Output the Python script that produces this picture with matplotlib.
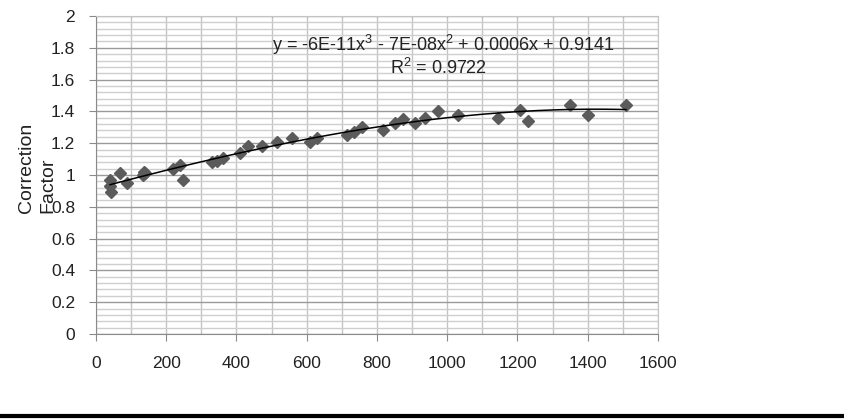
import matplotlib
matplotlib.use("Agg")
import matplotlib.pyplot as plt
from matplotlib.ticker import MultipleLocator
import numpy as np

# values
depth = [40, 40, 42, 68, 88, 134, 136, 140, 219, 239, 248, 330, 345, 361, 410, 433,
         472, 515, 558, 609, 629, 714, 735, 757, 817, 851, 874, 908, 937, 974, 1031,
         1145, 1207, 1230, 1349, 1400, 1509]
factor = [0.97, 0.93, 0.89, 1.01, 0.95, 1.0, 1.02, 1.01, 1.04, 1.06, 0.97, 1.08, 1.09,
          1.11, 1.14, 1.18, 1.18, 1.21, 1.23, 1.21, 1.23, 1.25, 1.27, 1.30, 1.28, 1.33,
          1.35, 1.33, 1.36, 1.40, 1.38, 1.36, 1.41, 1.34, 1.44, 1.38, 1.44]
y_labels = ["0", "0.2", "0.4", "0.6", "0.8", "1", "1.2", "1.4", "1.6", "1.8", "2"]
eq_text = "y = -6E-11x$^3$ - 7E-08x$^2$ + 0.0006x + 0.9141"
r2_text = "R$^2$ = 0.9722"

plt.rcParams["font.family"] = ["Liberation Sans", "DejaVu Sans"]
plt.rcParams["mathtext.fontset"] = "custom"
plt.rcParams["mathtext.rm"] = "Liberation Sans"

fig = plt.figure(figsize=(8.45, 4.2), dpi=100)
ax = fig.add_axes([96 / 845, 1 - 334 / 420, 562 / 845, 318 / 420])

ax.plot(depth, factor, linestyle="none", marker="D", markersize=6.5,
        color="#5b5b5b", zorder=3)

# cubic trend line fitted on the data
coef = np.polyfit(depth, factor, 3)
xs = np.linspace(min(depth), max(depth), 200)
ax.plot(xs, np.polyval(coef, xs), color="black", lw=1.1, zorder=4)

ax.set_xlim(0, 1600)
ax.set_ylim(0, 2)
ax.xaxis.set_major_locator(MultipleLocator(200))
ax.xaxis.set_minor_locator(MultipleLocator(100))
ax.yaxis.set_minor_locator(MultipleLocator(0.04))
ax.set_yticks(np.arange(0, 2.01, 0.2))
ax.set_yticklabels(y_labels)

ax.grid(which="major", axis="y", color="#9a9a9a", lw=1.0)
ax.grid(which="minor", axis="y", color="#cfcfcf", lw=1.0)
ax.grid(which="both", axis="x", color="#c4c4c4", lw=1.0)
ax.set_axisbelow(True)

for s in ["top", "right"]:
    ax.spines[s].set_color("#c4c4c4")
for s in ["left", "bottom"]:
    ax.spines[s].set_color("#8a8a8a")
ax.tick_params(which="major", length=5, color="#8a8a8a", labelsize=12.5,
               labelcolor="#222222")
ax.tick_params(which="minor", length=0)
ax.tick_params(axis="y", pad=10)
ax.tick_params(axis="x", pad=11)

# trendline label, as placed by the spreadsheet
ax.text(443 / 845, 1 - 45 / 420, eq_text, transform=fig.transFigure,
        ha="center", va="center", fontsize=13, color="#222222")
ax.text(438 / 845, 1 - 68 / 420, r2_text, transform=fig.transFigure,
        ha="center", va="center", fontsize=13, color="#222222")

# y label sits over the tick labels in the original, like here
fig.text(37 / 845, 1 - 168 / 420, "Correction\nFactor", rotation=90,
         ha="center", va="center", multialignment="left", fontsize=14,
         color="#222222", linespacing=1.3)

# bottom border line
fig.add_artist(plt.Line2D([0, 1], [1 - 415.5 / 420, 1 - 415.5 / 420],
                          transform=fig.transFigure, color="black", lw=3))

fig.savefig("out.png", dpi=100)
